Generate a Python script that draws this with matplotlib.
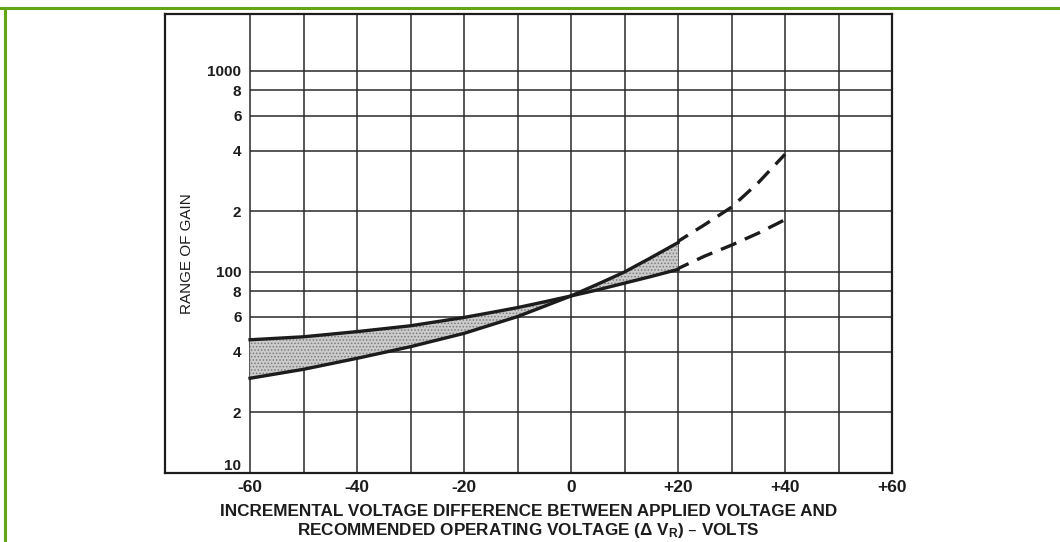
import matplotlib
matplotlib.use("Agg")
import matplotlib.pyplot as plt
from matplotlib.lines import Line2D

plt.rcParams['font.family'] = ['Liberation Sans', 'DejaVu Sans']
plt.rcParams['mathtext.default'] = 'regular'
plt.rcParams['hatch.linewidth'] = 0.7

# values
volts = [-60, -50, -40, -30, -20, -15, -10, -5, 0, 5, 10, 15, 20]
gain_flat = [46, 47.6, 50.5, 54, 59.4, 62.8, 66.5, 71, 76, 81.5, 88, 95, 103]
gain_steep = [29.6, 32.8, 37.2, 42.5, 49.5, 54.5, 60, 67.5, 76, 87, 100, 118, 140]

volts_ext = [20, 25, 30, 35, 40]
gain_flat_ext = [104, 120, 136, 156, 182]
gain_steep_ext = [142, 172, 210, 278, 385]

volt_ticks = [-60, -50, -40, -30, -20, -10, 0, 10, 20, 30, 40, 50, 60]
volt_labels = ['-60', '', '-40', '', '-20', '', '0', '', '+20', '', '+40', '', '+60']
gain_ticks = [20, 40, 60, 80, 100, 200, 400, 600, 800, 1000]
gain_labels = ['2', '4', '6', '8', '100', '2', '4', '6', '8', '1000']

ink = '#1c1c1c'

fig = plt.figure(figsize=(10.6, 5.42), dpi=100)
ax = fig.add_axes([165 / 1060, 1 - 473 / 542, (892 - 165) / 1060, (473 - 14) / 542])
ax.set_yscale('log')
ax.set_xlim(-75.9, 60)
ax.set_ylim(10, 1920)

# grid: vertical lines full height, horizontal ones only over the data range
ax.set_xticks(volt_ticks, volt_labels)
ax.grid(axis='x', color='#2a2a2a', lw=1.1)
ax.hlines(gain_ticks, volt_ticks[0], volt_ticks[-1], color='#2a2a2a', lw=1.1)

ax.set_yticks(gain_ticks, gain_labels)
ax.set_yticks([10], ['10'], minor=True)
for lbl in ax.get_yticklabels(minor=True):
    lbl.set_va('bottom')

ax.tick_params(axis='y', which='both', length=0, pad=-55, labelsize=11, labelcolor=ink)
ax.tick_params(axis='x', length=0, pad=5, labelsize=12.5, labelcolor=ink)
for lbl in ax.get_yticklabels() + ax.get_yticklabels(minor=True) + ax.get_xticklabels():
    lbl.set_fontweight('bold')

for sp in ax.spines.values():
    sp.set_linewidth(1.6)
    sp.set_color(ink)

# shaded band between the two limits
ax.fill_between(volts, gain_flat, gain_steep, facecolor='#cbcbcb', edgecolor='#7a7a7a',
                hatch='.....', lw=0, zorder=2)
ax.plot(volts, gain_flat, color=ink, lw=2.4, zorder=3)
ax.plot(volts, gain_steep, color=ink, lw=2.4, zorder=3)
ax.plot(volts_ext, gain_flat_ext, color=ink, lw=2.4, ls=(1.5, (5, 2.8)), zorder=3)
ax.plot(volts_ext, gain_steep_ext, color=ink, lw=2.4, ls=(1.5, (5, 2.8)), zorder=3)

ax.set_ylabel('RANGE OF GAIN', fontsize=11, color=ink)
ax.yaxis.set_label_coords(0.040, 0.479)
ax.set_xlabel('INCREMENTAL VOLTAGE DIFFERENCE BETWEEN APPLIED VOLTAGE AND\n'
              'RECOMMENDED OPERATING VOLTAGE (\u0394 V$_R$) \u2013 VOLTS',
              fontsize=12.3, fontweight='bold', color=ink, linespacing=1.12)
ax.xaxis.set_label_coords(0.5, -0.068)
ax.xaxis.label.set_va('top')

# green page border (top and left)
green = '#62a614'
fig.add_artist(Line2D([0, 1], [1 - 7.8 / 542] * 2, color=green, lw=2.2, transform=fig.transFigure))
fig.add_artist(Line2D([5.3 / 1060] * 2, [0, 1 - 7.8 / 542], color=green, lw=2.2, transform=fig.transFigure))

fig.savefig('out.png', dpi=100)
